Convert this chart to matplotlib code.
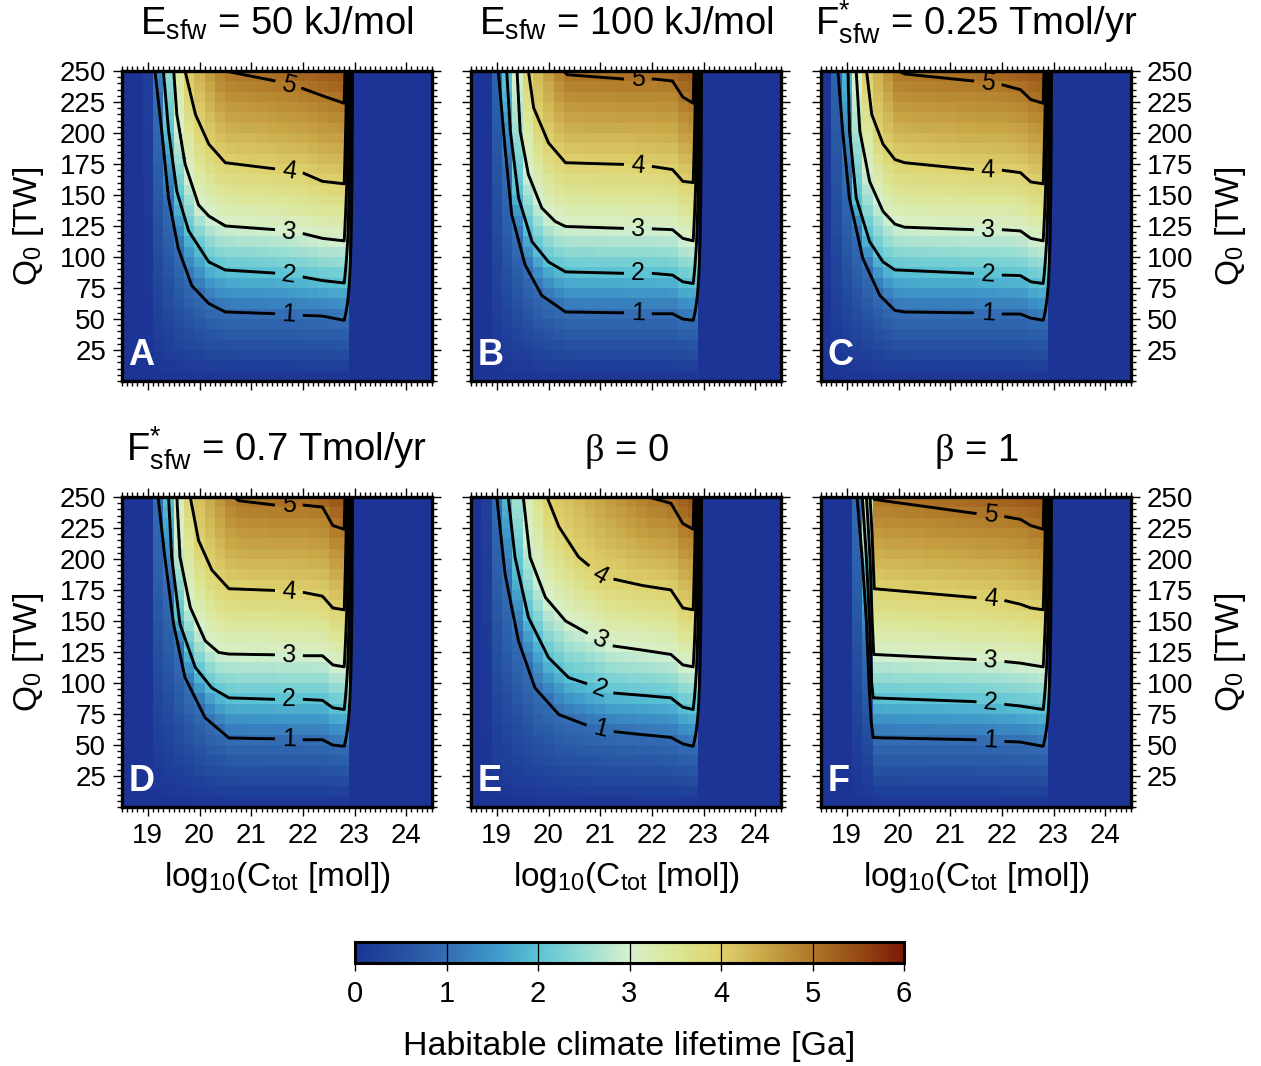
import numpy as np
import matplotlib
matplotlib.use('Agg')
import matplotlib.pyplot as plt
from matplotlib.colors import LinearSegmentedColormap
from matplotlib.ticker import MultipleLocator

plt.rcParams['font.family'] = ['Liberation Sans', 'DejaVu Sans']
plt.rcParams['mathtext.fontset'] = 'custom'
plt.rcParams['mathtext.rm'] = 'Liberation Sans'
plt.rcParams['mathtext.it'] = 'Liberation Serif'
plt.rcParams['mathtext.bf'] = 'Liberation Sans:bold'

# ---- data ---------------------------------------------------------------
titles = [r'$\mathrm{E}_{\mathrm{sfw}}$ = 50 kJ/mol',
          r'$\mathrm{E}_{\mathrm{sfw}}$ = 100 kJ/mol',
          r'$\mathrm{F}^{*}_{\mathrm{sfw}}$ = 0.25 Tmol/yr',
          r'$\mathrm{F}^{*}_{\mathrm{sfw}}$ = 0.7 Tmol/yr',
          r'$\beta$ = 0',
          r'$\beta$ = 1']
letters = ['A', 'B', 'C', 'D', 'E', 'F']
levels = [1, 2, 3, 4, 5]

# contour lines (lifetime 1..5 Ga): log10(Ctot) and Q0 [TW] along each line
a_x = [[19.14, 19.27, 19.40, 19.59, 19.85, 20.18, 20.50, 21.47, 21.99, 22.38, 22.80],
       [19.30, 19.40, 19.56, 19.79, 20.18, 20.50, 21.47, 21.99, 22.38, 22.80],
       [19.50, 19.56, 19.72, 19.98, 20.18, 20.50, 21.47, 21.99, 22.38, 22.80],
       [19.72, 19.92, 20.18, 20.50, 21.47, 21.99, 22.38, 22.80],
       [20.50, 21.47, 21.99, 22.45, 22.80]]
a_q = [[250, 202, 148, 107, 77, 62.5, 55.7, 54.3, 53, 52.4, 49],
       [250, 202, 153, 121, 96, 89.5, 87, 84, 81, 79],
       [250, 215, 175, 142, 133, 125, 122, 119, 115, 113],
       [250, 215, 191, 176, 171, 168, 161, 159],
       [250, 242, 236, 229, 224]]

b_x = [[19.03, 19.16, 19.29, 19.55, 19.87, 20.33, 21.49, 22.01, 22.40, 22.60, 22.80],
       [19.19, 19.26, 19.42, 19.68, 20.00, 20.33, 21.49, 22.01, 22.40, 22.60, 22.80],
       [19.39, 19.45, 19.61, 19.87, 20.13, 20.33, 21.49, 22.01, 22.40, 22.60, 22.80],
       [19.61, 19.71, 20.00, 20.33, 21.49, 22.01, 22.40, 22.60, 22.80],
       [20.29, 20.36, 21.49, 22.08, 22.40, 22.60, 22.80]]
b_q = [[250, 188, 134, 93.5, 69, 55.7, 55, 54.3, 54.3, 50, 49],
       [250, 201.6, 147.6, 112.4, 96, 88, 86.8, 86.8, 85.4, 80, 78.6],
       [250, 201.6, 166.5, 139.5, 128.6, 124.6, 123, 122.7, 122, 115, 113],
       [250, 220.5, 192, 176, 174.6, 173, 170.5, 161, 160],
       [250, 247, 243.5, 243.5, 242, 229, 224]]

c_x = [[18.83, 18.92, 19.05, 19.31, 19.64, 19.93, 20.12, 21.45, 22.00, 22.36, 22.56, 22.80],
       [19.02, 19.05, 19.18, 19.44, 19.70, 19.93, 21.45, 22.00, 22.36, 22.56, 22.80],
       [19.18, 19.25, 19.44, 19.70, 19.93, 20.12, 21.45, 22.00, 22.36, 22.56, 22.80],
       [19.38, 19.48, 19.70, 19.93, 20.12, 21.45, 22.00, 22.36, 22.56, 22.80],
       [19.99, 20.12, 21.45, 22.00, 22.36, 22.56, 22.80]]
c_q = [[250, 201.6, 147.6, 99, 69, 57, 55.7, 55, 54, 54, 50.8, 49],
       [250, 201.6, 147.6, 112.4, 96, 89.6, 86.8, 85.4, 85, 80, 78.6],
       [250, 201.6, 161, 136.8, 126.5, 124, 122, 122, 121, 115, 113],
       [250, 215, 191, 178.6, 176, 170.5, 170, 168, 160.5, 159],
       [250, 247.6, 242, 239, 235, 227, 224]]

d_x = [[19.20, 19.33, 19.50, 19.72, 20.11, 20.57, 21.47, 22.02, 22.38, 22.58, 22.80],
       [19.40, 19.46, 19.62, 19.92, 20.24, 20.57, 21.47, 22.02, 22.38, 22.58, 22.80],
       [19.56, 19.62, 19.82, 20.11, 20.37, 20.57, 21.47, 22.02, 22.38, 22.58, 22.80],
       [19.82, 19.98, 20.24, 20.57, 21.47, 22.02, 22.38, 22.58, 22.80],
       [20.66, 20.76, 21.47, 22.02, 22.38, 22.58, 22.80]]
d_q = [[250, 201.6, 147.6, 104.6, 72, 55.7, 55, 54.3, 54.3, 50, 49],
       [250, 201.6, 147.6, 112.4, 96, 88, 86.8, 86.8, 86, 80, 78.6],
       [250, 201.6, 161, 134, 124.6, 123.3, 122.7, 122, 122, 114.6, 113],
       [250, 215, 191, 176, 174.6, 173, 170, 160.5, 159],
       [250, 247, 243.5, 243.5, 242, 227, 224]]

e_x = [[19.00, 19.16, 19.42, 19.74, 20.20, 20.71, 21.23, 21.82, 22.37, 22.60, 22.80],
       [19.22, 19.35, 19.61, 20.00, 20.39, 20.78, 21.23, 21.82, 22.37, 22.60, 22.80],
       [19.51, 19.64, 19.94, 20.33, 20.78, 21.23, 21.82, 22.37, 22.60, 22.80],
       [19.97, 20.20, 20.58, 21.01, 21.23, 21.82, 22.37, 22.60, 22.80],
       [21.94, 22.37, 22.60, 22.80]]
e_q = [[250, 188, 134, 96, 74.6, 66.5, 61, 58.4, 56.2, 51, 49],
       [250, 201.6, 153, 120.5, 104.3, 98.9, 92, 90, 88, 80.5, 78.6],
       [250, 201.6, 169, 150, 139.5, 130, 126.5, 123, 114.6, 113],
       [250, 226, 201.6, 186.8, 184, 178.6, 175, 160.5, 159],
       [250, 245, 228.6, 224]]

f_x = [[19.20, 19.30, 19.38, 19.43, 19.47, 19.51, 21.45, 22.00, 22.36, 22.80],
       [19.30, 19.38, 19.44, 19.48, 19.51, 21.45, 22.00, 22.36, 22.80],
       [19.38, 19.45, 19.49, 19.52, 21.45, 22.00, 22.36, 22.56, 22.80],
       [19.45, 19.49, 19.53, 21.45, 22.00, 22.36, 22.56, 22.80],
       [19.50, 19.53, 21.45, 22.00, 22.36, 22.56, 22.80]]
f_q = [[250, 200, 150, 100, 70, 56, 54.3, 53, 52.4, 49],
       [250, 200, 150, 100, 88, 85, 83, 81.4, 78.6],
       [250, 200, 150, 123, 119, 117.5, 116, 114.6, 113],
       [250, 220, 176, 169, 167, 163.5, 160.5, 159],
       [250, 248, 237, 234.6, 232, 227, 224]]

# log10(Ctot) where the lifetime reaches zero along the top row
zero_edge = [18.97, 18.85, 18.65, 19.00, 18.75, 19.15]
top_right_life = 5.4      # Ga at Q0 = 250, right end of the habitable band
plateau_end = 22.8        # last column with a finite lifetime
cutoff = 23.0             # lifetime is zero from here on

label_x = [21.73, 21.73, 21.73, 21.73, 21.0, 21.78]
label_levels = [levels, levels, levels, levels, [1, 2, 3, 4], levels]

paths_x = [a_x, b_x, c_x, d_x, e_x, f_x]
paths_q = [a_q, b_q, c_q, d_q, e_q, f_q]


def lifetime(px, pq, x0, xs, qs):
    # rebuild the field column by column so that each level passes through
    # the contour positions
    top_x = [x0] + [p[0] for p in px] + [plateau_end]
    top_v = [0] + levels + [top_right_life]
    z = np.zeros((len(qs), len(xs)))
    for j, x in enumerate(xs):
        xe = min(x, plateau_end)
        qa, va = [0.0], [0.0]
        for k, (lx, lq) in zip(levels, zip(px, pq)):
            if xe >= lx[0]:
                qa.append(np.interp(xe, lx, lq))
                va.append(k)
        qa.append(250.0)
        va.append(np.interp(xe, top_x, top_v))
        order = np.argsort(qa, kind='stable')
        col = np.interp(qs, np.array(qa)[order], np.array(va)[order])
        ramp = np.clip((cutoff - x) / (cutoff - plateau_end), 0, 1)
        z[:, j] = col * ramp
    return z


# roma-like colour map (blue -> cyan -> pale -> yellow -> brown)
cmap = LinearSegmentedColormap.from_list('roma_r', [
    (0.000, '#1c3496'), (0.083, '#24509f'), (0.167, '#346eb4'),
    (0.250, '#3e96c8'), (0.333, '#5ac3d4'), (0.417, '#96dcd2'),
    (0.500, '#d7f0cd'), (0.583, '#dce696'), (0.667, '#ded26e'),
    (0.750, '#c8a546'), (0.833, '#af7828'), (0.917, '#964b14'),
    (1.000, '#7d1905')])

W, H = 1261, 1066
fig = plt.figure(figsize=(W / 100, H / 100), dpi=100)


def rect(l, t, w, h):
    return [l / W, 1 - (t + h) / H, w / W, h / H]


x_edges = np.linspace(18.5, 24.5, 31)
q_edges = np.linspace(0, 250, 31)
x_cent = 0.5 * (x_edges[1:] + x_edges[:-1])
q_cent = 0.5 * (q_edges[1:] + q_edges[:-1])
x_fine = np.linspace(18.5, 24.5, 601)
q_fine = np.linspace(0, 250, 501)

lefts = [122, 471, 821]
tops = [71, 497]
size = 310

for i in range(6):
    row, col = divmod(i, 3)
    ax = fig.add_axes(rect(lefts[col], tops[row], size, size))
    zc = lifetime(paths_x[i], paths_q[i], zero_edge[i], x_cent, q_cent)
    zf = lifetime(paths_x[i], paths_q[i], zero_edge[i], x_fine, q_fine)
    mesh = ax.pcolormesh(x_edges, q_edges, zc, cmap=cmap, vmin=0, vmax=6,
                         shading='flat')
    cs = ax.contour(x_fine, q_fine, zf, levels=levels, colors='k',
                    linewidths=2.1)
    pos = [(label_x[i], np.interp(label_x[i], paths_x[i][k - 1], paths_q[i][k - 1]))
           for k in label_levels[i]]
    ax.clabel(cs, label_levels[i], manual=pos, inline=True, fontsize=18,
              fmt='%d', inline_spacing=7)

    ax.set_xlim(18.5, 24.5)
    ax.set_ylim(0, 250)
    ax.set_xticks(range(19, 25))
    ax.set_yticks(range(25, 251, 25))
    ax.xaxis.set_minor_locator(MultipleLocator(0.1))
    ax.yaxis.set_minor_locator(MultipleLocator(5))
    ax.tick_params(which='both', direction='out', top=True, right=True,
                   width=1.0, labelsize=20,
                   labelbottom=(row == 1), labelleft=(col == 0),
                   labelright=(col == 2))
    ax.tick_params(which='major', length=6.5, pad=5)
    ax.tick_params(which='minor', length=3.5)
    for sp in ax.spines.values():
        sp.set_linewidth(2.4)

    ax.text(0.02, 0.025, letters[i], transform=ax.transAxes, color='white',
            fontsize=26, fontweight='bold', ha='left', va='bottom')
    ax.text(0.5, 1 + 36 / size, titles[i], transform=ax.transAxes,
            ha='center', va='baseline', fontsize=27.5)

    cx = (lefts[col] + size / 2) / W
    if row == 1:
        fig.text(cx, 1 - 886 / H, r'$\mathrm{log}_{10}(\mathrm{C}_{\mathrm{tot}}$ [mol])',
                 ha='center', va='baseline', fontsize=24)
    cy = 1 - (tops[row] + size / 2) / H
    if col == 0:
        fig.text(29 / W, cy, r'$\mathrm{Q}_0$ [TW]', rotation=90,
                 ha='center', va='center', fontsize=24)
    if col == 2:
        fig.text(1230 / W, cy, r'$\mathrm{Q}_0$ [TW]', rotation=90,
                 ha='center', va='center', fontsize=24)

cax = fig.add_axes(rect(355, 942, 549, 21))
cb = fig.colorbar(mesh, cax=cax, orientation='horizontal', ticks=range(7))
cb.outline.set_linewidth(2.2)
cax.tick_params(direction='out', length=6, width=1, labelsize=21, pad=6)
for v in range(1, 6):
    cax.axvline(v, color='k', lw=0.9)
fig.text(629.5 / W, 1 - 1055 / H, 'Habitable climate lifetime [Ga]',
         ha='center', va='baseline', fontsize=24.5)

fig.savefig('out.png', dpi=100)
